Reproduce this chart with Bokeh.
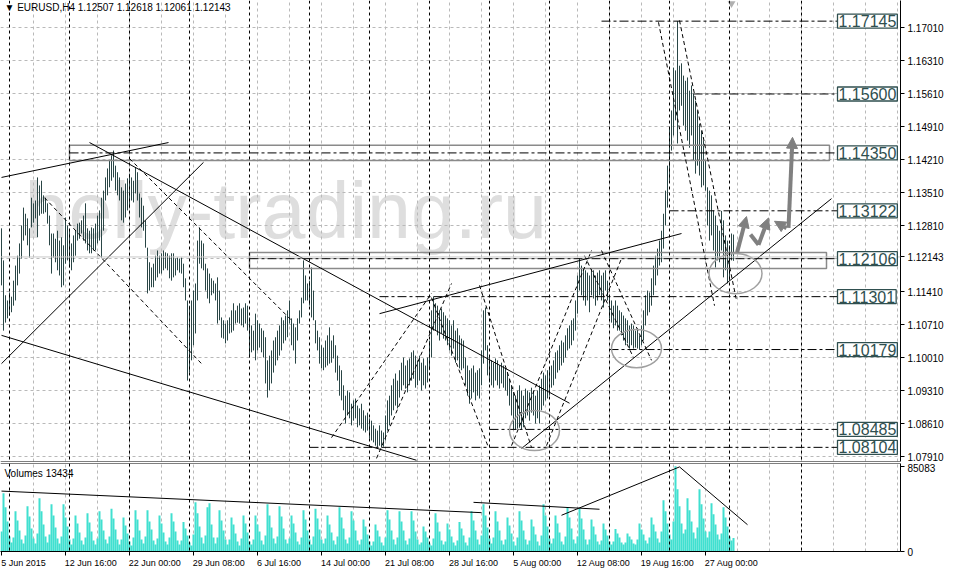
from bokeh.plotting import figure
from bokeh.layouts import column
from bokeh.models import (ColumnDataSource, Range1d, LinearAxis, FixedTicker, Span, Label,
                          Arrow, NormalHead, NumeralTickFormatter, Grid)
from bokeh.core.properties import value
from bokeh.embed import file_html
from bokeh.resources import INLINE

# ---------------- data (EURUSD H4) ----------------
high = [
    1.1275, 1.1207, 1.1133, 1.1122, 1.1139, 1.1130, 1.1164, 1.1196, 1.1217, 1.1243,
    1.1281, 1.1319, 1.1306, 1.1296, 1.1275, 1.1340, 1.1328, 1.1334, 1.1383, 1.1366,
    1.1376, 1.1345, 1.1340, 1.1328, 1.1302, 1.1264, 1.1264, 1.1253, 1.1270, 1.1249,
    1.1256, 1.1239, 1.1298, 1.1281, 1.1270, 1.1243, 1.1260, 1.1270, 1.1285, 1.1287,
    1.1292, 1.1302, 1.1328, 1.1275, 1.1270, 1.1277, 1.1275, 1.1285, 1.1302, 1.1313,
    1.1340, 1.1355, 1.1383, 1.1402, 1.1419, 1.1430, 1.1440, 1.1408, 1.1394, 1.1383,
    1.1362, 1.1355, 1.1370, 1.1381, 1.1391, 1.1383, 1.1376, 1.1404, 1.1394, 1.1349,
    1.1340, 1.1323, 1.1292, 1.1234, 1.1203, 1.1192, 1.1200, 1.1217, 1.1228, 1.1217,
    1.1222, 1.1228, 1.1224, 1.1222, 1.1217, 1.1222, 1.1222, 1.1211, 1.1213, 1.1211,
    1.1213, 1.1200, 1.1169, 1.1122, 1.1111, 1.1122, 1.1143, 1.1158, 1.1249, 1.1277,
    1.1249, 1.1243, 1.1200, 1.1190, 1.1179, 1.1169, 1.1164, 1.1158, 1.1171, 1.1143,
    1.1086, 1.1080, 1.1073, 1.1080, 1.1086, 1.1101, 1.1116, 1.1101, 1.1111, 1.1116,
    1.1105, 1.1107, 1.1116, 1.1111, 1.1086, 1.1069, 1.1058, 1.1094, 1.1080, 1.1073,
    1.1063, 1.1058, 1.1044, 1.0995, 1.1005, 1.1016, 1.1037, 1.1044, 1.1058, 1.1069,
    1.1086, 1.1080, 1.1090, 1.1101, 1.1122, 1.1084, 1.1073, 1.1065, 1.1084, 1.1101,
    1.1128, 1.1207, 1.1175, 1.1158, 1.1164, 1.1192, 1.1143, 1.1080, 1.1058, 1.1044,
    1.1027, 1.1022, 1.1037, 1.1048, 1.1065, 1.1037, 1.1048, 1.1027, 1.1005, 1.0984,
    1.0974, 1.0942, 1.0920, 1.0931, 1.0927, 1.0903, 1.0910, 1.0914, 1.0899, 1.0893,
    1.0903, 1.0889, 1.0878, 1.0884, 1.0872, 1.0867, 1.0857, 1.0850, 1.0846, 1.0857,
    1.0846, 1.0842, 1.0878, 1.0910, 1.0920, 1.0942, 1.0956, 1.0967, 1.0952, 1.0974,
    1.0990, 1.1001, 1.0984, 1.0995, 1.0999, 1.1012, 1.1016, 1.1005, 1.0995, 1.1005,
    1.0990, 1.0999, 1.0984, 1.1001, 1.1037, 1.1101, 1.1130, 1.1116, 1.1111, 1.1101,
    1.1105, 1.1097, 1.1090, 1.1084, 1.1080, 1.1069, 1.1080, 1.1058, 1.1063, 1.1048,
    1.1041, 1.1037, 1.1001, 1.0984, 1.0974, 1.0978, 1.0984, 1.0969, 1.0974, 1.0978,
    1.1016, 1.1101, 1.1107, 1.1027, 1.1005, 1.0995, 1.0990, 1.0999, 1.0995, 1.0984,
    1.0990, 1.0984, 1.0978, 1.0969, 1.0956, 1.0942, 1.0927, 1.0920, 1.0931, 1.0942,
    1.0931, 1.0920, 1.0935, 1.0931, 1.0927, 1.0937, 1.0931, 1.0920, 1.0931, 1.0942,
    1.0956, 1.0969, 1.0963, 1.0974, 1.0980, 1.0984, 1.0995, 1.1012, 1.1016, 1.1027,
    1.1037, 1.1033, 1.1048, 1.1063, 1.1069, 1.1080, 1.1084, 1.1122, 1.1175, 1.1211,
    1.1196, 1.1190, 1.1186, 1.1181, 1.1175, 1.1190, 1.1186, 1.1175, 1.1181, 1.1186,
    1.1175, 1.1181, 1.1186, 1.1164, 1.1133, 1.1122, 1.1111, 1.1122, 1.1111, 1.1101,
    1.1097, 1.1090, 1.1084, 1.1080, 1.1069, 1.1073, 1.1069, 1.1058, 1.1063, 1.1048,
    1.1069, 1.1101, 1.1133, 1.1143, 1.1139, 1.1169, 1.1196, 1.1217, 1.1232, 1.1249,
    1.1270, 1.1306, 1.1355, 1.1408, 1.1489, 1.1525, 1.1616, 1.1610, 1.17145, 1.1620,
    1.1625, 1.1599, 1.1588, 1.1595, 1.1567, 1.1578, 1.1561, 1.1546, 1.1525, 1.1497,
    1.1482, 1.1461, 1.1419, 1.1362, 1.1355, 1.1345, 1.1313, 1.1302, 1.1281, 1.1270,
    1.1312, 1.1292, 1.1260, 1.1249, 1.1239, 1.1264, 1.12618,
]
low = [
    1.1154, 1.1058, 1.1075, 1.1084, 1.1090, 1.1097, 1.1111, 1.1122, 1.1154, 1.1179,
    1.1211, 1.1249, 1.1260, 1.1239, 1.1213, 1.1277, 1.1287, 1.1296, 1.1256, 1.1302,
    1.1306, 1.1306, 1.1309, 1.1285, 1.1239, 1.1179, 1.1213, 1.1203, 1.1186, 1.1175,
    1.1150, 1.1154, 1.1200, 1.1207, 1.1192, 1.1186, 1.1203, 1.1217, 1.1249, 1.1253,
    1.1264, 1.1249, 1.1243, 1.1228, 1.1222, 1.1222, 1.1228, 1.1228, 1.1243, 1.1249,
    1.1213, 1.1270, 1.1334, 1.1345, 1.1362, 1.1376, 1.1383, 1.1355, 1.1345, 1.1334,
    1.1292, 1.1287, 1.1298, 1.1313, 1.1319, 1.1334, 1.1330, 1.1349, 1.1334, 1.1298,
    1.1277, 1.1270, 1.1234, 1.1137, 1.1143, 1.1150, 1.1150, 1.1164, 1.1171, 1.1179,
    1.1179, 1.1186, 1.1190, 1.1186, 1.1169, 1.1164, 1.1171, 1.1175, 1.1186, 1.1181,
    1.1179, 1.1150, 1.1122, 1.0952, 1.0969, 1.0995, 1.1027, 1.1052, 1.1122, 1.1200,
    1.1190, 1.1186, 1.1143, 1.1126, 1.1116, 1.1133, 1.1137, 1.1122, 1.1073, 1.1080,
    1.1043, 1.1041, 1.1031, 1.1037, 1.1052, 1.1054, 1.1058, 1.1073, 1.1075, 1.1073,
    1.1069, 1.1065, 1.1073, 1.1058, 1.1001, 1.1012, 1.1016, 1.0995, 1.1016, 1.1022,
    1.1012, 1.1001, 1.0946, 1.0916, 1.0931, 1.0946, 1.0969, 1.0984, 1.0995, 1.1005,
    1.1016, 1.1031, 1.1037, 1.1044, 1.1073, 1.1027, 1.1016, 1.0988, 1.1037, 1.1073,
    1.1086, 1.1116, 1.1122, 1.1122, 1.1111, 1.1086, 1.1080, 1.1031, 1.1016, 1.0988,
    1.0978, 1.0974, 1.0980, 1.0984, 1.0988, 1.0990, 1.0999, 1.0969, 1.0952, 1.0920,
    1.0910, 1.0889, 1.0861, 1.0878, 1.0872, 1.0857, 1.0867, 1.0872, 1.0853, 1.0857,
    1.0850, 1.0846, 1.0842, 1.0846, 1.0829, 1.0825, 1.0821, 1.0814, 1.0811, 1.0814,
    1.08104, 1.0812, 1.0825, 1.0846, 1.0857, 1.0878, 1.0889, 1.0899, 1.0893, 1.0916,
    1.0931, 1.0942, 1.0935, 1.0927, 1.0942, 1.0952, 1.0956, 1.0937, 1.0942, 1.0952,
    1.0931, 1.0942, 1.0935, 1.0948, 1.0974, 1.1001, 1.1058, 1.1058, 1.1048, 1.1037,
    1.1052, 1.1041, 1.1037, 1.1027, 1.1016, 1.1005, 1.1020, 1.0990, 1.0995, 1.0978,
    1.0974, 1.0978, 1.0942, 1.0920, 1.0903, 1.0914, 1.0927, 1.0910, 1.0920, 1.0914,
    1.0942, 1.0988, 1.1016, 1.0963, 1.0948, 1.0942, 1.0937, 1.0952, 1.0942, 1.0935,
    1.0946, 1.0937, 1.0931, 1.0920, 1.0899, 1.0878, 1.0849, 1.08485, 1.0850, 1.0852,
    1.0849, 1.0853, 1.0872, 1.0878, 1.0867, 1.0884, 1.0878, 1.0861, 1.0872, 1.0861,
    1.0889, 1.0899, 1.0910, 1.0914, 1.0920, 1.0937, 1.0942, 1.0956, 1.0969, 1.0974,
    1.0984, 1.0990, 1.1001, 1.1016, 1.1020, 1.1027, 1.1037, 1.1058, 1.1094, 1.1143,
    1.1133, 1.1122, 1.1111, 1.1122, 1.1097, 1.1133, 1.1126, 1.1111, 1.1122, 1.1133,
    1.1122, 1.1107, 1.1143, 1.1122, 1.1084, 1.1075, 1.1063, 1.1069, 1.1058, 1.1058,
    1.1048, 1.1037, 1.1027, 1.1031, 1.1020, 1.1027, 1.1020, 1.1022, 1.1020, 1.10179,
    1.1027, 1.1037, 1.1069, 1.1090, 1.1097, 1.1111, 1.1133, 1.1154, 1.1175, 1.1196,
    1.1203, 1.1232, 1.1281, 1.1319, 1.1376, 1.1440, 1.1472, 1.1504, 1.1455, 1.1525,
    1.1535, 1.1493, 1.1482, 1.1461, 1.1446, 1.1472, 1.1419, 1.1391, 1.1408, 1.1387,
    1.1362, 1.1366, 1.1355, 1.1281, 1.1249, 1.1260, 1.1228, 1.1192, 1.1207, 1.1203,
    1.1228, 1.1171, 1.1186, 1.1158, 1.1164, 1.1207, 1.12061,
]
volume = [
    20000, 58000, 44000, 30000, 15000, 9000,
    14000, 40000, 31000, 21000, 12000, 8000,
    16000, 45000, 35000, 23000, 13000, 8000,
    18000, 53000, 40000, 27000, 15000, 9000,
    17000, 47000, 36000, 24000, 13000, 8000,
    15000, 47000, 34000, 25000, 12000, 7000,
    13000, 36000, 28000, 19000, 11000, 7000,
    14000, 38000, 29000, 20000, 11000, 7000,
    13000, 40000, 32000, 21000, 12000, 8000,
    15000, 42500, 33000, 22000, 12000, 7000,
    12000, 34000, 26000, 18000, 10000, 6000,
    14000, 41000, 32000, 21000, 12000, 8000,
    15000, 41000, 30000, 22000, 11000, 7000,
    13000, 36000, 28000, 19000, 10000, 7000,
    14000, 38000, 30000, 20000, 11000, 7000,
    11000, 29500, 23000, 16000, 9000, 6000,
    17000, 49000, 38000, 25000, 14000, 8000,
    16000, 44000, 48000, 27000, 14000, 8000,
    14000, 41000, 31000, 21000, 12000, 7000,
    12000, 34000, 27000, 18000, 10000, 6000,
    13000, 36000, 28000, 19000, 10000, 7000,
    12000, 36000, 27000, 20000, 11000, 7000,
    16000, 47000, 36000, 24000, 13000, 8000,
    15000, 45000, 35000, 23000, 12000, 8000,
    13000, 36000, 28000, 19000, 10000, 7000,
    14000, 41000, 32000, 21000, 12000, 7000,
    15000, 42500, 33000, 22000, 12000, 8000,
    13000, 36000, 27000, 19000, 11000, 7000,
    15000, 44000, 34000, 23000, 12000, 8000,
    14000, 40000, 31000, 21000, 11000, 7000,
    12000, 32000, 25000, 17000, 10000, 6000,
    10000, 27000, 21000, 15000, 9000, 6000,
    14000, 41000, 32000, 21000, 12000, 7000,
    14000, 40000, 30000, 21000, 11000, 7000,
    13000, 40000, 31000, 20000, 12000, 7000,
    9000, 25000, 20000, 14000, 8000, 6000,
    13000, 38000, 29000, 20000, 11000, 7000,
    10000, 28000, 22000, 15000, 9000, 6000,
    11000, 29500, 23000, 16000, 9000, 6000,
    14000, 40000, 31000, 21000, 12000, 7000,
    16000, 47000, 36000, 24000, 13000, 8000,
    14000, 40000, 30000, 21000, 11000, 7000,
    12000, 34000, 26000, 18000, 10000, 6000,
    14000, 40000, 31000, 21000, 12000, 7000,
    11000, 32000, 25000, 17000, 10000, 6000,
    16000, 47000, 36000, 25000, 13000, 8000,
    13000, 36000, 28000, 19000, 10000, 7000,
    15000, 44000, 34000, 23000, 12000, 8000,
    15000, 42500, 33000, 22000, 12000, 7000,
    12000, 32000, 25000, 17000, 10000, 7000,
    11000, 28000, 22000, 16000, 10000, 7000,
    10000, 22500, 18000, 14000, 9000, 7000,
    9000, 18000, 15000, 12000, 8000, 7000,
    12000, 28000, 22000, 17000, 11000, 8000,
    14000, 34000, 27000, 20000, 13000, 9000,
    20000, 51000, 40000, 28000, 17000, 12000,
    30000, 85083, 62000, 45000, 28000, 18000,
    22000, 53000, 41000, 30000, 19000, 13000,
    24000, 62000, 47000, 33000, 20000, 14000,
    20000, 48000, 37000, 27000, 17000, 12000,
    18000, 44000, 34000, 25000, 15000, 11000,
    13434,
]
bar = list(range(len(high)))

header_text = "\u25bc EURUSD,H4  1.12507 1.12618 1.12061 1.12143"
last_price = 1.12143
last_volume = 13434
max_volume = 85083

price_ticks = [1.0791, 1.0861, 1.0931, 1.1001, 1.1071, 1.1141, 1.1211,
               1.1281, 1.1351, 1.1421, 1.1491, 1.1561, 1.1631, 1.1701]
axis_price_ticks = [1.0791, 1.0861, 1.0931, 1.1001, 1.1071, 1.1141, last_price,
                    1.1281, 1.1351, 1.1421, 1.1491, 1.1561, 1.1631, 1.1701]
date_ticks = [0, 32, 64, 96, 128, 160, 192, 224, 256, 288, 320, 352]
date_labels = ["5 Jun 2015", "12 Jun 16:00", "22 Jun 00:00", "29 Jun 08:00",
               "6 Jul 16:00", "14 Jul 00:00", "21 Jul 08:00", "28 Jul 16:00",
               "5 Aug 00:00", "12 Aug 08:00", "19 Aug 16:00", "27 Aug 00:00"]
# labels start at their tick (MT4 style): centre positions of the label texts
date_label_pos = [11.0, 44.6, 76.6, 108.6, 138.8, 172.0, 204.0, 236.0,
                  268.0, 301.0, 333.0, 365.0]
grid_bars = [16 * k for k in range(1, 29)]
week_bars = [4, 34, 64, 94, 124, 154, 184, 214, 244, 274, 304, 334, 364, 400]

levels = [1.17145, 1.15600, 1.14350, 1.13122, 1.12106, 1.11301, 1.10179, 1.08485, 1.08104]
level_text = ["1.17145", "1.15600", "1.14350", "1.13122", "1.12106",
              "1.11301", "1.10179", "1.08485", "1.08104"]
level_from = [300, 346, 34, 334, 124, 189, 304, 244, 154]
level_to = 418

zones_left = [34, 124]
zones_right = [414, 412.5]
zones_bottom = [1.1419, 1.1190]
zones_top = [1.1451, 1.1224]

trend_x0 = [0, 0, 0, 44, 260, 189]
trend_y0 = [1.1383, 1.1048, 1.0988, 1.1457, 1.0808, 1.1094]
trend_x1 = [83.5, 207.5, 101, 284, 415, 340]
trend_y1 = [1.1457, 1.0783, 1.1415, 1.0904, 1.1338, 1.1264]

dash_x0 = [21.5, 64, 165, 187.5, 215, 239, 255, 272.5, 291.5, 300, 328.5, 339]
dash_y0 = [1.1340, 1.1423, 1.0831, 1.0787, 1.1128, 1.1154, 1.0814, 1.0814, 1.1217, 1.1228, 1.1712, 1.1716]
dash_x1 = [100, 145, 215, 225, 243.5, 265, 295, 310, 316, 325, 356.5, 367.5]
dash_y1 = [1.0988, 1.1080, 1.1137, 1.1158, 1.0810, 1.0810, 1.1228, 1.1211, 1.1001, 1.0995, 1.1111, 1.1122]

ell_x = [266.5, 317.5, 367]
ell_y = [1.0846, 1.1020, 1.1179]
ell_w = [25, 25, 26.5]
ell_h = [0.0085, 0.0081, 0.0085]

vol_x0 = [0, 236, 280, 339]
vol_y0 = [60200, 49000, 36100, 84300]
vol_x1 = [240, 299, 339, 373]
vol_y1 = [38700, 42100, 84300, 26700]

X_RANGE = (-0.5, 449.5)
P_RANGE = (1.07804, 1.17583)
V_RANGE = (0, 87700)

FONT = "Liberation Sans"
BAR_COLOR = "#2a4646"
GRID = "#b9b9b9"


def style_axis(ax, size="10px", standoff=3):
    ax.axis_line_color = "black"
    ax.major_tick_line_color = "black"
    ax.major_tick_out = 4
    ax.major_tick_in = 0
    ax.minor_tick_line_color = None
    ax.major_label_standoff = standoff
    ax.major_label_text_font = FONT
    ax.major_label_text_font_size = size
    ax.major_label_text_color = "black"


# ---------------- main price panel ----------------
x_range = Range1d(*X_RANGE)
p = figure(frame_width=900, frame_height=461, x_range=x_range, y_range=Range1d(*P_RANGE),
           x_axis_type=None, y_axis_type=None, output_backend="svg", toolbar_location=None,
           min_border_left=0, min_border_top=0, min_border_bottom=2, min_border_right=0,
           background_fill_color="white", border_fill_color="white")
p.outline_line_color = None

p.add_layout(Grid(dimension=0, ticker=FixedTicker(ticks=grid_bars),
                  grid_line_color=GRID, grid_line_dash="3 3"))
p.add_layout(Grid(dimension=1, ticker=FixedTicker(ticks=price_ticks),
                  grid_line_color=GRID, grid_line_dash="3 3"))

yaxis = LinearAxis(ticker=FixedTicker(ticks=axis_price_ticks),
                   formatter=NumeralTickFormatter(format="0.00000"))
style_axis(yaxis)
p.add_layout(yaxis, "right")

# watermark
p.text(x=[11.5], y=[1.1312], text=["helly-trading.ru"], text_font=value(FONT),
       text_font_size="79px", text_color="#dedede", text_baseline="alphabetic",
       level="image")

for b in week_bars:
    p.add_layout(Span(location=b, dimension="height", line_color="black",
                      line_dash="3 3", line_width=1))

p.add_layout(Span(location=last_price, dimension="width", line_color="#c8c8c8", line_width=1))

src = ColumnDataSource(dict(x=bar, high=high, low=low, vol=volume))
p.segment(x0="x", y0="low", x1="x", y1="high", source=src, line_color=BAR_COLOR, line_width=1)

# zones
p.quad(left=zones_left, right=zones_right, bottom=zones_bottom, top=zones_top,
       fill_color=None, line_color="#8a8a8a", line_width=1.5)

# level lines
p.segment(x0=level_from, y0=levels, x1=[level_to] * len(levels), y1=levels,
          line_color="black", line_width=1, line_dash="9 3 3 3")

# trend lines
p.segment(x0=trend_x0, y0=trend_y0, x1=trend_x1, y1=trend_y1, line_color="black", line_width=1)
p.segment(x0=dash_x0, y0=dash_y0, x1=dash_x1, y1=dash_y1, line_color="black",
          line_width=1, line_dash="4 3")

p.ellipse(x=ell_x, y=ell_y, width=ell_w, height=ell_h, fill_color=None,
          line_color="#a0a0a0", line_width=1.5)

# gray arrows
AR = "#808080"


def arrow(x0, y0, x1, y1):
    p.add_layout(Arrow(end=NormalHead(size=11, fill_color=AR, line_color=AR),
                       x_start=x0, y_start=y0, x_end=x1, y_end=y1,
                       line_color=AR, line_width=4))


arrow(367.8, 1.1224, 372.5, 1.1300)
p.line(x=[374.5, 378.5], y=[1.1262, 1.1240], line_color=AR, line_width=4)
arrow(378.5, 1.1240, 383.5, 1.1297)
arrow(392.5, 1.1275, 386.5, 1.1290)
arrow(393.5, 1.1276, 395.5, 1.1468)

p.scatter(x=[365], y=[1.1752], marker="inverted_triangle", size=8,
          fill_color="#b0b0b0", line_color=None)

for lv, txt in zip(levels, level_text):
    p.add_layout(Label(x=418.0, y=lv, text=txt, text_font=FONT, text_font_size="16px",
                       text_color="#2f4f4f", text_baseline="middle", text_align="left",
                       background_fill_color="white", border_line_color="#2f4f4f",
                       border_line_width=1.3, padding=1))

p.add_layout(Label(x=1.5, y=1.1743, text=header_text, text_font=FONT, text_font_size="10px",
                   text_color="black", text_baseline="middle"))

p.add_layout(Span(location=P_RANGE[0], dimension="width", line_color="black", line_width=1))

# ---------------- volume panel ----------------
q = figure(frame_width=900, frame_height=88, x_range=x_range, y_range=Range1d(*V_RANGE),
           x_axis_type=None, y_axis_type=None, output_backend="svg", toolbar_location=None,
           min_border_left=0, min_border_top=0, min_border_bottom=0, min_border_right=0,
           background_fill_color="white", border_fill_color="white")
q.outline_line_color = None
q.add_layout(Grid(dimension=0, ticker=FixedTicker(ticks=grid_bars),
                  grid_line_color=GRID, grid_line_dash="3 3"))

vaxis = LinearAxis(ticker=FixedTicker(ticks=[0, max_volume]))
style_axis(vaxis)
q.add_layout(vaxis, "right")

xaxis = LinearAxis(ticker=FixedTicker(ticks=date_label_pos, minor_ticks=date_ticks),
                   major_label_overrides=dict(zip(date_label_pos, date_labels)))
style_axis(xaxis, size="9px", standoff=2)
xaxis.major_tick_line_color = None
xaxis.minor_tick_line_color = "black"
xaxis.minor_tick_out = 4
xaxis.minor_tick_in = 0
q.add_layout(xaxis, "below")

q.vbar(x="x", top="vol", width=1.0, bottom=0, source=src, fill_color="#40e0d0",
       line_color=None)
for b in week_bars:
    q.add_layout(Span(location=b, dimension="height", line_color="black",
                      line_dash="3 3", line_width=1))
q.segment(x0=vol_x0, y0=vol_y0, x1=vol_x1, y1=vol_y1, line_color="black", line_width=1)
q.add_layout(Span(location=V_RANGE[1], dimension="width", line_color="black", line_width=1))
q.add_layout(Label(x=1.5, y=78000, text="Volumes %d" % last_volume, text_font=FONT,
                   text_font_size="10px", text_color="black", text_baseline="middle"))

layout = column(p, q, spacing=0)
open("out.html", "w").write(file_html(layout, INLINE))
